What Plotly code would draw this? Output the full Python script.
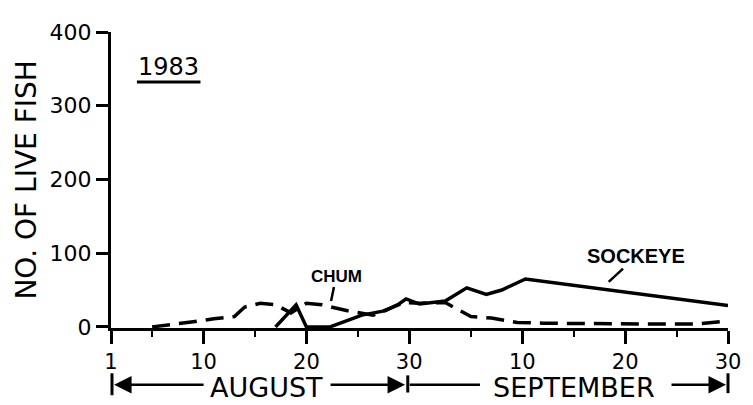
import plotly.graph_objects as go

# day number counted from 1 August (1 Aug = 1, 1 Sep = 32, 30 Sep = 61)
chum_day = [5, 7, 9, 11, 13, 14, 15.5, 17, 18.5, 20, 21.5, 24, 26.5, 29.5, 31, 33.5, 36, 38, 40.5, 43, 48, 53, 58, 61]
chum_count = [0, 3, 7, 11, 14, 27, 32, 30, 19, 32, 30, 22, 16, 33, 32, 33, 14, 12, 6, 5, 4, 4, 4, 8]

sockeye_day = [17, 19, 20, 22.3, 25.4, 27.7, 29, 29.7, 31, 33.5, 35.6, 37.5, 39, 41.3, 61]
sockeye_count = [0, 30, 0, 0, 16, 22, 31, 38, 31, 35, 53, 44, 50, 65, 29]

x_tick_days = [1, 10, 20, 30, 41, 51, 61]
x_tick_text = ["1", "10", "20", "30", "10", "20", "30"]
x_minor_days = [5, 15, 25, 36, 46, 56]
y_ticks = [0, 100, 200, 300, 400]

FONT = "DejaVu Sans"
INK = "black"

fig = go.Figure()

fig.add_trace(go.Scatter(
    x=chum_day, y=chum_count, mode="lines", name="Chum",
    line=dict(color=INK, width=3.5, dash="18px,9px"),
))
fig.add_trace(go.Scatter(
    x=sockeye_day, y=sockeye_count, mode="lines", name="Sockeye",
    line=dict(color=INK, width=3.5),
))

# series labels with short leader lines
fig.add_annotation(x=22.4, y=35, ax=22.9, ay=69, axref="x", ayref="y",
                   text="<b>CHUM</b>", showarrow=True, arrowhead=0,
                   arrowwidth=2.5, arrowcolor=INK,
                   font=dict(family="Liberation Sans", size=17, color=INK))
fig.add_annotation(x=49.4, y=61, ax=52.1, ay=96, axref="x", ayref="y",
                   text="<b>SOCKEYE</b>", showarrow=True, arrowhead=0,
                   arrowwidth=2.5, arrowcolor=INK,
                   font=dict(family="Liberation Sans", size=20, color=INK))

# year label, underlined
fig.add_annotation(x=0.0937, y=0.883, xref="paper", yref="paper",
                   xanchor="center", yanchor="middle",
                   text="1983", showarrow=False,
                   font=dict(family=FONT, size=24, color=INK))
fig.add_shape(type="line", xref="paper", yref="paper",
              x0=0.042, x1=0.145, y0=0.831, y1=0.831,
              line=dict(color=INK, width=3))

# y axis title
fig.add_annotation(x=-0.137, y=0.503, xref="paper", yref="paper",
                   xanchor="center", yanchor="middle", borderpad=0,
                   text="NO. OF LIVE FISH", textangle=-90, showarrow=False,
                   font=dict(family=FONT, size=28, color=INK))

# month bands below the axis
yb = -0.1916
for label, mx in [("AUGUST", 0.252), ("SEPTEMBER", 0.7496)]:
    fig.add_annotation(x=mx, y=-0.2, xref="paper", yref="paper", text=label,
                       xanchor="center", yanchor="middle", showarrow=False,
                       borderpad=0,
                       font=dict(family=FONT, size=27, color=INK))

arrows = [(0.005, 91), (0.4766, -76), (0.9968, -56)]
for hx, tail in arrows:
    fig.add_annotation(x=hx, y=yb, xref="paper", yref="paper", ax=tail, ay=0,
                       text="", showarrow=True, arrowhead=2, arrowsize=1.4,
                       arrowwidth=2.5, arrowcolor=INK, standoff=0)
fig.add_shape(type="line", xref="paper", yref="paper", x0=0.484, x1=0.598,
              y0=yb, y1=yb, line=dict(color=INK, width=2.5))
for bx, b0, b1 in [(0.0016, -0.153, -0.227), (0.481, -0.16, -0.218), (1.0, -0.153, -0.22)]:
    fig.add_shape(type="line", xref="paper", yref="paper", x0=bx, x1=bx,
                  y0=b0, y1=b1, line=dict(color=INK, width=3))

# the page adds an 8px body margin, so the figure is drawn 8px smaller
fig.update_layout(
    width=745, height=397,
    margin=dict(l=103, r=23, t=12, b=77),
    paper_bgcolor="white", plot_bgcolor="white",
    showlegend=False,
    font=dict(family=FONT, color=INK),
)
fig.update_xaxes(
    range=[1, 61], showgrid=False, zeroline=False,
    showline=True, linecolor=INK, linewidth=3,
    tickmode="array", tickvals=x_tick_days, ticktext=x_tick_text,
    ticks="outside", ticklen=13, tickwidth=2.5, tickcolor=INK,
    tickfont=dict(family=FONT, size=21, color=INK),
    ticklabeloverflow="allow",
    minor=dict(tickmode="array", tickvals=x_minor_days, ticks="outside",
               ticklen=6, tickwidth=2, tickcolor=INK, showgrid=False),
)
fig.update_yaxes(
    range=[-1.5, 400], showgrid=False, zeroline=False,
    showline=True, linecolor=INK, linewidth=3,
    tickmode="array", tickvals=y_ticks,
    ticks="outside", ticklen=12, tickwidth=2.5, tickcolor=INK,
    tickfont=dict(family=FONT, size=22, color=INK),
    ticklabeloverflow="allow",
)

fig.write_html("out.html")
